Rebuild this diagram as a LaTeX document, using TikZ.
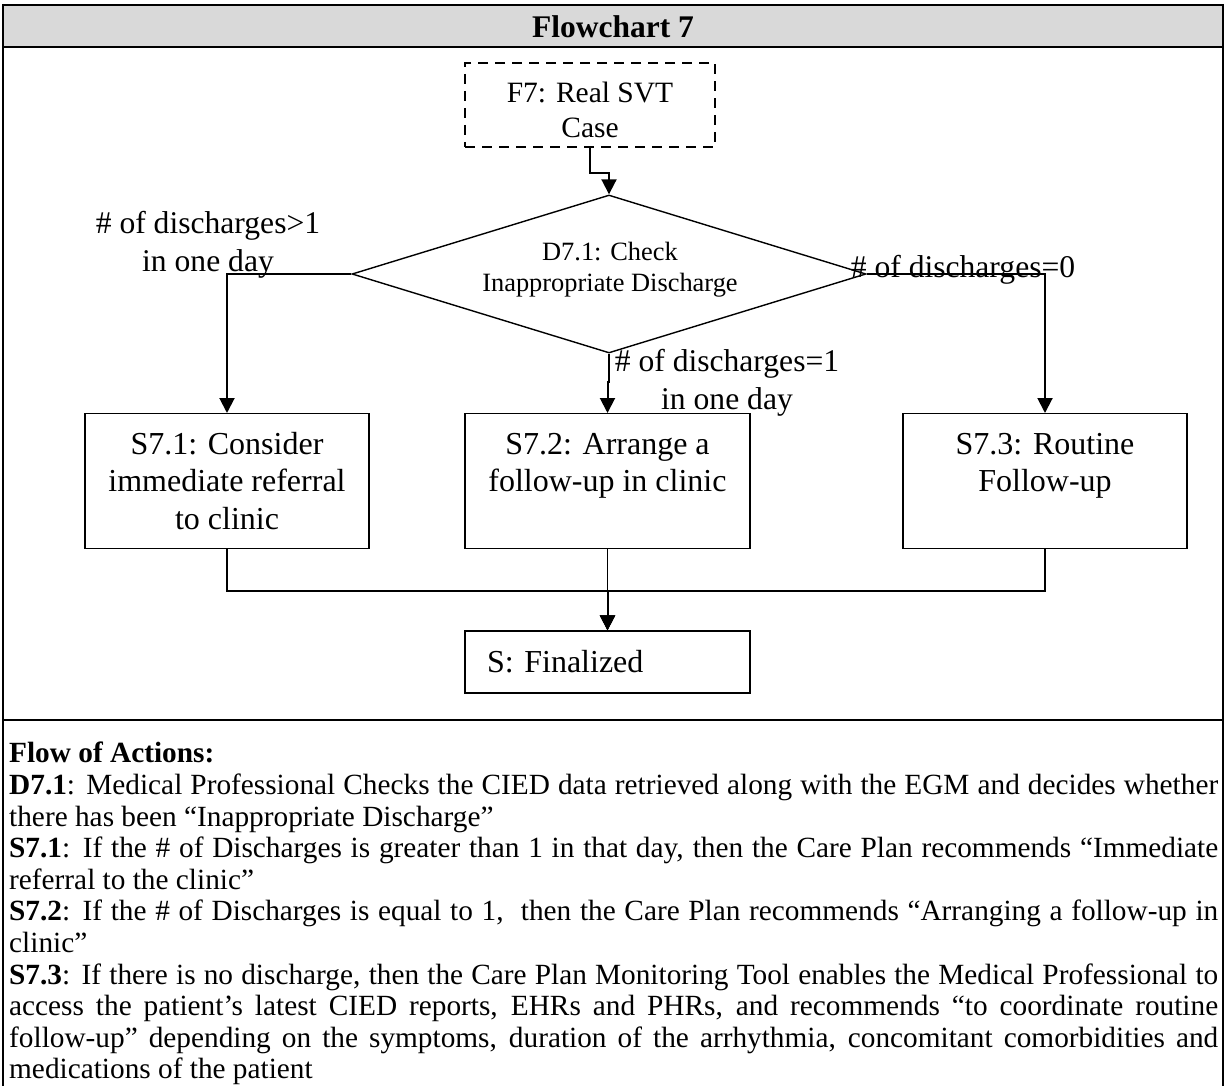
\documentclass[tikz,border=0pt]{standalone}
\usepackage{fontspec}
\setmainfont{Liberation Serif}
\usetikzlibrary{arrows.meta,shapes.geometric}
\definecolor{hdrgray}{HTML}{D9D9D9}

\begin{document}
\begin{tikzpicture}[x=1pt,y=-1pt,
  rule/.style={line width=2.5pt},
  border/.style={line width=2pt},
  conn/.style={line width=2pt,-{Triangle[length=15pt,width=15pt]}},
  thinconn/.style={line width=1.4pt,-{Triangle[length=15pt,width=15pt]}},
  stepbox/.style={draw,line width=1.4pt,inner sep=0pt,anchor=north},
  lbl/.style={font=\fontsize{31.6}{38}\selectfont,align=center,inner sep=0pt},
]
\useasboundingbox (0,0) rectangle (1226,1086);

% table frame with grey title band
\fill[hdrgray] (3,5) rectangle (1223,47);
\draw[border] (3,4) -- (3,1086);
\draw[border] (1223,4) -- (1223,1086);
\draw[rule] (3,5) -- (1223,5);
\draw[rule] (3,47) -- (1223,47);
\draw[rule] (3,720) -- (1223,720);
\node[font=\fontsize{31.5}{36}\selectfont\bfseries] (title) at (613,27) {Flowchart 7};

% start node
\node[draw,line width=2pt,dash pattern=on 10pt off 7pt,inner sep=0pt] (f7) at (590,105)
  {\parbox[c][84pt][t]{250pt}{\centering\fontsize{29.5}{35}\selectfont\rule{0pt}{40pt}F7: Real SVT\\Case}};

% decision
\node[diamond,draw,line width=1.4pt,minimum width=514pt,minimum height=158pt,aspect=3.25,inner sep=0pt] (dia) at (609,274) {};
\node[font=\fontsize{26.4}{31}\selectfont,align=center,inner sep=0pt] (dtext) at (610,270) {D7.1: Check\\Inappropriate Discharge};

% step boxes
\node[stepbox] (s71) at (227,413)
  {\parbox[c][135pt][t]{284pt}{\centering\fontsize{32}{37.5}\selectfont\rule{0pt}{40.5pt}S7.1: Consider\\immediate referral\\to clinic}};
\node[stepbox] (s72) at (607.5,413)
  {\parbox[c][135pt][t]{285pt}{\centering\fontsize{32}{37.5}\selectfont\rule{0pt}{40.5pt}S7.2: Arrange a\\follow-up in clinic}};
\node[stepbox] (s73) at (1045,413)
  {\parbox[c][135pt][t]{284pt}{\centering\fontsize{32}{37.5}\selectfont\rule{0pt}{40.5pt}S7.3: Routine\\Follow-up}};

\node[draw,line width=1.4pt,minimum width=285pt,minimum height=62pt,inner xsep=22pt,inner ysep=0pt,
      text width=241pt,align=left,font=\fontsize{32}{37.5}\selectfont] (fin) at (607.5,662) {S: Finalized};

% connectors
\draw[conn] (f7.south) -- ++(0,25) -| (dia.north);
\draw[conn] (dia.west) -| (s71.north);
\draw[conn] (dia.east) -| (s73.north);
\draw[conn] (dia.south) -- ++(0,28) -| (s72.north);
\draw[thinconn] (s72.south) -- (fin.north);
\draw[conn] (s71.south) -- ++(0,42) -| (fin.north);
\draw[conn] (s73.south) -- ++(0,42) -| (fin.north);

% branch labels
\node[lbl] (l1) at (208,245) {\# of discharges>1\\in one day};
\node[lbl,anchor=base] (l0) at (963,277) {\# of discharges=0};
\node[lbl] (l2) at (727,383) {\# of discharges=1\\in one day};

% description of the actions
\node[anchor=north west,inner sep=0pt,text width=1209pt,align=justify,
      font=\fontsize{29.3}{31.6}\selectfont] (body) at (9,742) {%
\parindent=0pt
\textbf{Flow of Actions:}\par
\textbf{D7.1}: Medical Professional Checks the CIED data retrieved along with the EGM and decides whether\linebreak
there has been “Inappropriate Discharge”\par
\textbf{S7.1}: If the \# of Discharges is greater than 1 in that day, then the Care Plan recommends “Immediate\linebreak
referral to the clinic”\par
\textbf{S7.2}: If the \# of Discharges is equal to 1,\ \ then the Care Plan recommends “Arranging a follow-up in\linebreak
clinic”\par
\textbf{S7.3}: If there is no discharge, then the Care Plan Monitoring Tool enables the Medical Professional to\linebreak
access the patient’s latest CIED reports, EHRs and PHRs, and recommends “to coordinate routine\linebreak
follow-up” depending on the symptoms, duration of the arrhythmia, concomitant comorbidities and\linebreak
medications of the patient\par};
\end{tikzpicture}
\end{document}
